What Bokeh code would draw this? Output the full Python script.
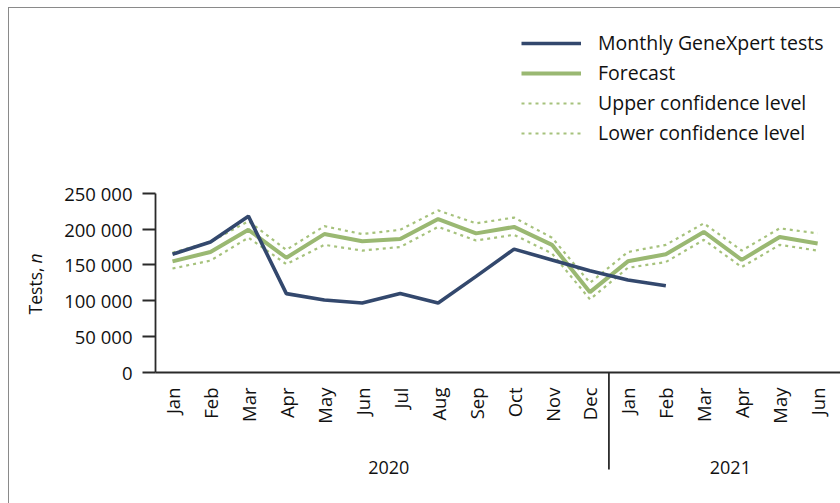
import math
from bokeh.plotting import figure
from bokeh.models import (Range1d, FixedTicker, Legend, LegendItem, Label)
from bokeh.embed import file_html
from bokeh.resources import INLINE

# ---------------- data ----------------
months = ["Jan", "Feb", "Mar", "Apr", "May", "Jun", "Jul", "Aug", "Sep", "Oct", "Nov", "Dec",
          "Jan", "Feb", "Mar", "Apr", "May", "Jun"]
years = ["2020", "2021"]
tests = [165000, 182000, 218000, 110000, 101000, 97000, 110000, 97000, 134000,
         172000, 157000, 142000, 129000, 121000]
forecast = [155000, 168000, 199000, 160000, 193000, 183000, 186000, 214000, 194000,
            203000, 178000, 112000, 155000, 165000, 196000, 157000, 189000, 180000]
upper = [167000, 182000, 211000, 171000, 204000, 193000, 199000, 226000, 208000,
         216000, 188000, 125000, 168000, 178000, 208000, 170000, 201000, 194000]
lower = [145000, 156000, 188000, 151000, 178000, 170000, 175000, 203000, 184000,
         192000, 166000, 102000, 146000, 154000, 185000, 147000, 178000, 170000]
y_ticks = [0, 50000, 100000, 150000, 200000, 250000]
y_tick_labels = ["0", "50 000", "100 000", "150 000", "200 000", "250 000"]

# ---------------- layout (pixel geometry of the page) ----------------
W, H = 840, 503
AXIS_X_PX = 155          # y axis line
ZERO_Y_PX = 372          # x axis line
PX_PER_MONTH = 37.95
FIRST_MONTH_PX = 172
PX_PER_250K = 179.3

ux = 1.0 / PX_PER_MONTH                # data units / px (x)
uy = 250000 / PX_PER_250K              # data units / px (y)
X0 = -FIRST_MONTH_PX * ux
X1 = X0 + W * ux
Y0 = -(H - ZERO_Y_PX) * uy
Y1 = ZERO_Y_PX * uy
x_axis_start = X0 + AXIS_X_PX * ux

FONT = "Open Sans"
BLUE = "#33486d"
GREEN = "#9ab872"
DOT = "#a6c27c"
INK = "#111111"
AXIS = "#2a2a2a"

x_all = list(range(len(months)))
x_tests = list(range(len(tests)))

p = figure(width=W, height=H, output_backend="svg", toolbar_location=None,
           x_range=Range1d(X0, X1), y_range=Range1d(Y0, Y1),
           min_border=0, min_border_left=0, min_border_right=0,
           min_border_top=0, min_border_bottom=0,
           styles={"background": "linear-gradient(#8a8a8a,#8a8a8a) 8px 7px / 1px 100% no-repeat, "
                                 "linear-gradient(#8a8a8a,#8a8a8a) 8px 7px / 100% 1px no-repeat, white"})
p.outline_line_color = None
p.grid.visible = False
p.background_fill_color = None
p.border_fill_color = None

r_up = p.line(x_all, upper, line_color=DOT, line_width=2.2, line_dash="3 4")
r_lo = p.line(x_all, lower, line_color=DOT, line_width=2.2, line_dash="3 4")
r_fc = p.line(x_all, forecast, line_color=GREEN, line_width=4)
r_ts = p.line(x_tests, tests, line_color=BLUE, line_width=3.6)

# y axis (drawn at fixed location inside the full-canvas frame)
ya = p.yaxis[0]
ya.fixed_location = x_axis_start
ya.ticker = FixedTicker(ticks=y_ticks, minor_ticks=[])
ya.major_label_overrides = {t: l for t, l in zip(y_ticks, y_tick_labels)}
ya.bounds = (0, 250000)
ya.major_tick_out = 13
ya.major_tick_in = 0
ya.major_label_standoff = 10
ya.major_label_text_font = FONT
ya.major_label_text_font_size = "18.5px"
ya.major_label_text_color = INK
ya.axis_line_color = AXIS
ya.axis_line_width = 1.8
ya.major_tick_line_color = AXIS
ya.major_tick_line_width = 1.8

# x axis
xa = p.xaxis[0]
xa.fixed_location = 0
xa.ticker = FixedTicker(ticks=x_all, minor_ticks=[])
xa.major_label_overrides = {i: m for i, m in enumerate(months)}
xa.major_label_orientation = math.pi / 2
xa.bounds = (x_axis_start, X1)
xa.major_tick_out = 0
xa.major_tick_in = 0
xa.major_label_standoff = 15
xa.major_label_text_font = FONT
xa.major_label_text_font_size = "18.5px"
xa.major_label_text_color = INK
xa.axis_line_color = AXIS
xa.axis_line_width = 1.8

# year separator between Dec and Jan
p.segment(x0=[11.5], y0=[0], x1=[11.5], y1=[-(469 - ZERO_Y_PX) * uy],
          line_color=INK, line_width=1.6)

# year labels
for yr, xc in zip(years, [5.7, 14.7]):
    p.add_layout(Label(x=xc, y=H - 467, y_units="screen", text=yr, text_align="center",
                       text_baseline="middle", text_font=FONT, text_font_size="18px",
                       text_color=INK))

# y axis title "Tests, n" with italic n
p.add_layout(Label(x=34, y=H - 267, x_units="screen", y_units="screen", text="Tests,",
                   angle=math.pi / 2, text_align="right", text_baseline="middle",
                   text_font=FONT, text_font_size="17.5px", text_color=INK))
p.add_layout(Label(x=34, y=H - 263, x_units="screen", y_units="screen", text="n",
                   angle=math.pi / 2, text_align="left", text_baseline="middle",
                   text_font=FONT, text_font_size="17.5px", text_font_style="italic",
                   text_color=INK))

legend = Legend(items=[
    LegendItem(label="Monthly GeneXpert tests", renderers=[r_ts]),
    LegendItem(label="Forecast", renderers=[r_fc]),
    LegendItem(label="Upper confidence level", renderers=[r_up]),
    LegendItem(label="Lower confidence level", renderers=[r_lo]),
], location=(521, H - 146))
legend.padding = 0
legend.margin = 0
legend.spacing = 3
legend.glyph_width = 60
legend.glyph_height = 26
legend.label_height = 26
legend.label_standoff = 17
legend.border_line_color = None
legend.background_fill_alpha = 0
legend.label_text_font = FONT
legend.label_text_font_size = "19.5px"
legend.label_text_color = INK
p.add_layout(legend)

open("out.html", "w").write(file_html(p, INLINE))
